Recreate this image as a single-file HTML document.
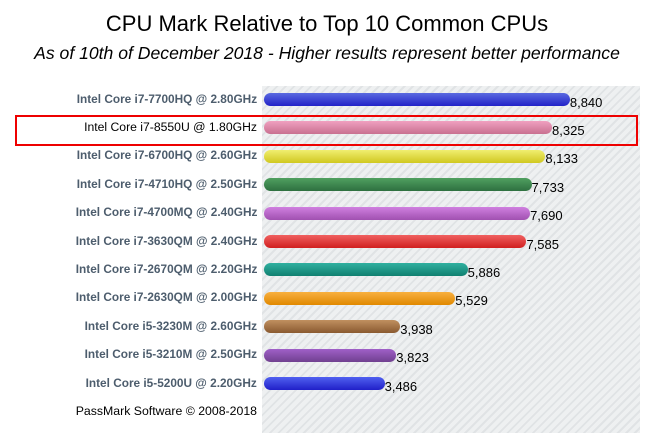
<!DOCTYPE html>
<html><head><meta charset="utf-8"><style>
body{margin:0;width:654px;height:433px;background:#fff;font-family:"Liberation Sans",sans-serif;position:relative;overflow:hidden}
.t{position:absolute;left:0;width:654px;text-align:center}
#bg{position:absolute;left:262px;top:86px;width:378px;height:347px;background:repeating-linear-gradient(135deg,#eef0f1 0 4px,#e0e3e5 4px 6px)}
.l{position:absolute;right:397px;font-size:12px;font-weight:bold;color:#4d5d6d;white-space:nowrap;transform:scaleX(0.985);transform-origin:right}
.b{position:absolute;left:264px;height:13px;border-radius:7px}
.v{position:absolute;font-size:13px;color:#000}
</style></head><body>
<div class="t" style="top:11px;font-size:22px">CPU Mark Relative to Top 10 Common CPUs</div>
<div class="t" style="top:43px;font-size:17.6px;font-style:italic">As of 10th of December 2018 - Higher results represent better performance</div>
<div id="bg"></div>
<div style="position:absolute;left:15px;top:115px;width:619px;height:27px;border:2px solid #e00"></div>
<div id="rows"></div>
<div style="position:absolute;right:397px;top:404px;font-size:12.3px;color:#000">PassMark Software © 2008-2018</div>
<script>
var d=[["Intel Core i7-7700HQ @ 2.80GHz",8840,"#5a6ae0","#2222c8"],
["Intel Core i7-8550U @ 1.80GHz",8325,"#f0a0c0","#c87090"],
["Intel Core i7-6700HQ @ 2.60GHz",8133,"#f0ee70","#d0c820"],
["Intel Core i7-4710HQ @ 2.50GHz",7733,"#50a060","#2e7040"],
["Intel Core i7-4700MQ @ 2.40GHz",7690,"#d080e0","#a050b0"],
["Intel Core i7-3630QM @ 2.40GHz",7585,"#f06060","#d02020"],
["Intel Core i7-2670QM @ 2.20GHz",5886,"#30b0a0","#108070"],
["Intel Core i7-2630QM @ 2.00GHz",5529,"#f8b040","#e08800"],
["Intel Core i5-3230M @ 2.60GHz",3938,"#c09060","#8a5a30"],
["Intel Core i5-3210M @ 2.50GHz",3823,"#a060c8","#704090"],
["Intel Core i5-5200U @ 2.20GHz",3486,"#5060f0","#2020c8"]];
var h="";
d.forEach(function(r,i){var c=99.5+i*28.4;var w=r[1]*0.0346;
h+='<div class="l" style="top:'+(c-8)+'px;'+(i==1?'font-weight:normal;color:#000;font-size:12.2px;transform:none;':'')+'">'+r[0]+'</div>';
h+='<div class="b" style="top:'+(c-6.5)+'px;width:'+w+'px;background:linear-gradient('+r[2]+','+r[3]+')"></div>';
h+='<div class="v" style="top:'+(c-5)+'px;left:'+(264+w)+'px">'+r[1].toLocaleString("en-US")+'</div>';});
document.getElementById("rows").innerHTML=h;
</script>
</body></html>
